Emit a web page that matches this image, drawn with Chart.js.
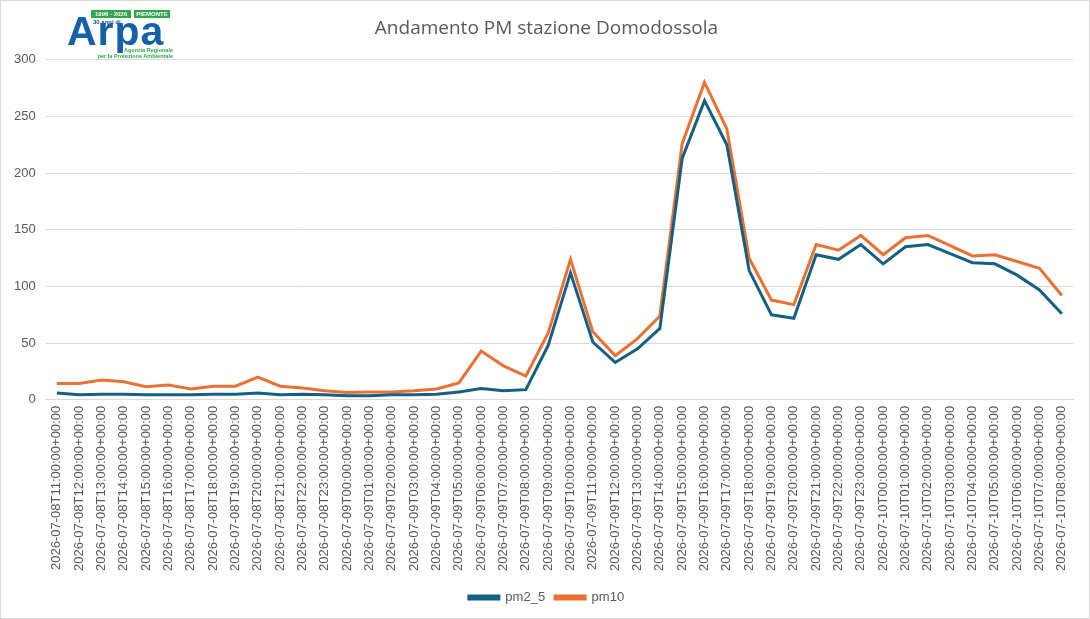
<!DOCTYPE html>
<html>
<head>
<meta charset="utf-8">
<script src="https://cdn.jsdelivr.net/npm/chart.js@4.4.1/dist/chart.umd.min.js"></script>
<style>
    html, body { margin: 0; padding: 0; background: #fff; }
    #wrap { position: relative; width: 1090px; height: 619px; box-sizing: border-box; border: 1px solid #d9d9d9; }
    #logo { position: absolute; left: 66px; top: 9px; width: 106px; height: 50px; font-family: "Liberation Sans", Arial, sans-serif; }
    #logo .badge { position: absolute; top: 0; height: 8px; background: #2ea84a; color: #fff; font-size: 6px; font-weight: bold; line-height: 8px; text-align: center; }
    #logo .anni { position: absolute; left: 26px; top: 9px; font-size: 6px; font-weight: bold; color: #1b4f9c; }
    #logo .arpa { position: absolute; left: 0; top: 1px; font-size: 41px; font-weight: bold; color: #1560a8; letter-spacing: 1px; line-height: 40px; }
    #logo .sub { position: absolute; right: 0; top: 37px; font-size: 5.5px; font-weight: bold; color: #2ea84a; text-align: right; line-height: 6px; }
</style>
</head>
<body>
<div id="wrap">
    <canvas id="chart" width="1088" height="617"></canvas>
    <div id="logo">
        <div class="badge" style="left:24px;width:40px;">1996 - 2026</div>
        <div class="badge" style="left:67px;width:36px;">PIEMONTE</div>
        <div class="anni">30 anni di</div>
        <div class="arpa">Arpa</div>
        <div class="sub">Agenzia Regionale<br>per la Protezione Ambientale</div>
    </div>
</div>
<script>
// Hourly timestamps (x axis)
const timestamps = [
    '2026-07-08T11:00:00+00:00', '2026-07-08T12:00:00+00:00', '2026-07-08T13:00:00+00:00',
    '2026-07-08T14:00:00+00:00', '2026-07-08T15:00:00+00:00', '2026-07-08T16:00:00+00:00',
    '2026-07-08T17:00:00+00:00', '2026-07-08T18:00:00+00:00', '2026-07-08T19:00:00+00:00',
    '2026-07-08T20:00:00+00:00', '2026-07-08T21:00:00+00:00', '2026-07-08T22:00:00+00:00',
    '2026-07-08T23:00:00+00:00', '2026-07-09T00:00:00+00:00', '2026-07-09T01:00:00+00:00',
    '2026-07-09T02:00:00+00:00', '2026-07-09T03:00:00+00:00', '2026-07-09T04:00:00+00:00',
    '2026-07-09T05:00:00+00:00', '2026-07-09T06:00:00+00:00', '2026-07-09T07:00:00+00:00',
    '2026-07-09T08:00:00+00:00', '2026-07-09T09:00:00+00:00', '2026-07-09T10:00:00+00:00',
    '2026-07-09T11:00:00+00:00', '2026-07-09T12:00:00+00:00', '2026-07-09T13:00:00+00:00',
    '2026-07-09T14:00:00+00:00', '2026-07-09T15:00:00+00:00', '2026-07-09T16:00:00+00:00',
    '2026-07-09T17:00:00+00:00', '2026-07-09T18:00:00+00:00', '2026-07-09T19:00:00+00:00',
    '2026-07-09T20:00:00+00:00', '2026-07-09T21:00:00+00:00', '2026-07-09T22:00:00+00:00',
    '2026-07-09T23:00:00+00:00', '2026-07-10T00:00:00+00:00', '2026-07-10T01:00:00+00:00',
    '2026-07-10T02:00:00+00:00', '2026-07-10T03:00:00+00:00', '2026-07-10T04:00:00+00:00',
    '2026-07-10T05:00:00+00:00', '2026-07-10T06:00:00+00:00', '2026-07-10T07:00:00+00:00',
    '2026-07-10T08:00:00+00:00'
];

// Series values (µg/m3)
const pm2_5 = [
    6, 4.5, 5, 5, 4.5, 4.5, 4.5, 5, 5, 6, 4.5, 5, 4.5, 3.5, 3.5,
    4.5, 4.5, 5, 7, 10, 8, 9, 48, 112, 51, 33, 45, 63, 213, 264,
    225, 114, 75, 72, 128, 124, 137, 120, 135, 137, 129, 121, 120, 110, 97, 76
];
const pm10 = [
    14.5, 14.5, 17.5, 16, 11.5, 13, 9.5, 12, 12, 20, 12, 10.5, 8, 6.5, 7,
    7, 8, 9.5, 15, 43, 30, 21, 59, 124, 60, 39, 54, 74, 226, 280,
    239, 125, 88, 84, 137, 132, 145, 128, 143, 145, 136, 127, 128, 122, 116, 92
];

const yTicks = [0, 50, 100, 150, 200, 250, 300];

const gray = '#595959';
const ctx = document.getElementById('chart').getContext('2d');

new Chart(ctx, {
    type: 'line',
    data: {
        labels: timestamps,
        datasets: [{
            label: 'pm2_5',
            data: pm2_5,
            borderColor: '#156082',
            backgroundColor: '#156082',
            borderWidth: 3,
            pointRadius: 0,
            tension: 0
        }, {
            label: 'pm10',
            data: pm10,
            borderColor: '#E97132',
            backgroundColor: '#E97132',
            borderWidth: 3,
            pointRadius: 0,
            tension: 0
        }]
    },
    options: {
        responsive: false,
        animation: false,
        layout: {
            padding: { left: 3, right: 0, top: 12, bottom: 4 }
        },
        plugins: {
            title: {
                display: true,
                text: 'Andamento PM stazione Domodossola',
                color: gray,
                font: { family: '"Open Sans", "Noto Sans", sans-serif', size: 19, weight: 'normal' },
                padding: { top: 4, bottom: 20 }
            },
            legend: {
                position: 'bottom',
                labels: {
                    color: gray,
                    font: { family: '"Liberation Sans", Arial, sans-serif', size: 13 },
                    boxWidth: 30,
                    boxHeight: 3,
                    padding: 10
                }
            },
            tooltip: { enabled: false }
        },
        scales: {
            x: {
                offset: true,
                grid: { display: false, drawTicks: false },
                border: { color: '#d9d9d9' },
                ticks: {
                    color: gray,
                    font: { family: '"Liberation Sans", Arial, sans-serif', size: 13 },
                    minRotation: 90,
                    maxRotation: 90,
                    autoSkip: false,
                    padding: 6
                },
                afterFit: axis => { axis.height += 4; }
            },
            y: {
                min: 0,
                max: 300,
                afterBuildTicks: axis => { axis.ticks = yTicks.map(v => ({ value: v })); },
                grid: { color: '#d9d9d9', drawTicks: false },
                border: { display: false },
                ticks: {
                    color: gray,
                    font: { family: '"Liberation Sans", Arial, sans-serif', size: 13 },
                    padding: 10
                }
            },
            // empty right margin so the title stays centred on the canvas
            yRight: {
                position: 'right',
                min: 0,
                max: 300,
                grid: { display: false },
                border: { display: false },
                ticks: { display: false },
                afterFit: axis => { axis.width = 16; }
            }
        }
    }
});
</script>
</body>
</html>
